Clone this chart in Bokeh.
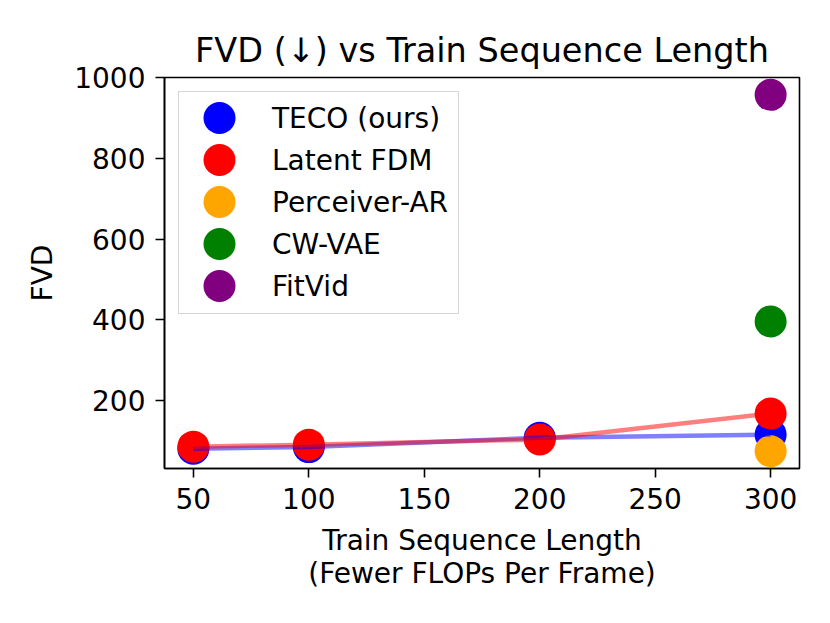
from bokeh.plotting import figure
from bokeh.models import Range1d, FixedTicker, Legend, LegendItem
from bokeh.embed import file_html
from bokeh.resources import INLINE

train_len = [50, 100, 200, 300]
teco_fvd = [81, 85, 108, 116]
fdm_fvd = [86, 91, 104, 168]
perceiver_len = [300]
perceiver_fvd = [75]
cwvae_len = [300]
cwvae_fvd = [396]
fitvid_len = [300]
fitvid_fvd = [957]

series_labels = ["TECO (ours)", "Latent FDM", "Perceiver-AR", "CW-VAE", "FitVid"]
series_colors = ["blue", "red", "orange", "green", "purple"]

x_ticks = [50, 100, 150, 200, 250, 300]
y_ticks = [200, 400, 600, 800, 1000]

FONT = "DejaVu Sans"
FW, FH = 635, 391

p = figure(frame_width=FW, frame_height=FH, output_backend="svg", toolbar_location=None,
           x_range=Range1d(37.5, 312.5), y_range=Range1d(32, 1000),
           min_border_left=164, min_border_top=77, min_border_right=22, min_border_bottom=136,
           title="FVD (\u2193) vs Train Sequence Length")
p.title.align = "center"
p.title.text_font = FONT
p.title.text_font_size = "33.5px"
p.title.text_font_style = "normal"
p.title.text_color = "black"
p.title.standoff = 16

p.xgrid.visible = False
p.ygrid.visible = False
p.outline_line_color = "black"
p.outline_line_width = 1.6
p.background_fill_color = "white"
p.border_fill_color = "white"

for ax in (p.xaxis[0], p.yaxis[0]):
    ax.axis_line_width = 1.6
    ax.major_tick_line_width = 1.6
    ax.major_tick_out = 9
    ax.major_tick_in = 0
    ax.major_label_standoff = 10
    ax.minor_tick_line_color = None
    ax.major_label_text_font = FONT
    ax.major_label_text_font_size = "28px"
    ax.major_label_text_color = "black"
    ax.axis_label_text_font = FONT
    ax.axis_label_text_font_size = "28px"
    ax.axis_label_text_font_style = "normal"
    ax.axis_label_text_color = "black"
    ax.axis_label_text_line_height = 1.0
    ax.axis_label_standoff = 12

p.xaxis.ticker = FixedTicker(ticks=x_ticks)
p.yaxis.ticker = FixedTicker(ticks=y_ticks)
p.xaxis.axis_label = "Train Sequence Length\n(Fewer FLOPs Per Frame)"
p.yaxis.axis_label = "FVD"

S = 32
p.scatter(train_len, teco_fvd, size=S, color=series_colors[0], line_color=None)
p.scatter(train_len, fdm_fvd, size=S, color=series_colors[1], line_color=None)
p.scatter(perceiver_len, perceiver_fvd, size=S, color=series_colors[2], line_color=None)
p.scatter(cwvae_len, cwvae_fvd, size=S, color=series_colors[3], line_color=None)
p.scatter(fitvid_len, fitvid_fvd, size=S, color=series_colors[4], line_color=None)

p.line(train_len, teco_fvd, line_color="blue", line_alpha=0.5, line_width=4.5)
p.line(train_len, fdm_fvd, line_color="red", line_alpha=0.5, line_width=4.5)

# legend: labels through a Legend, large keys drawn on an overlay in frame pixels
MARGIN, PAD, GW, GH, SPACING, STANDOFF = 14, 10, 62, 33, 9, 21
dummies = [p.scatter([], [], size=S, fill_color=None, line_color=None) for _ in series_labels]
legend = Legend(items=[LegendItem(label=l, renderers=[r]) for l, r in zip(series_labels, dummies)],
                location="top_left")
legend.label_text_font = FONT
legend.label_text_font_size = "28px"
legend.label_text_color = "black"
legend.border_line_color = "#cccccc"
legend.border_line_alpha = 0.8
legend.border_line_width = 1.6
legend.background_fill_alpha = 0.0
legend.margin = MARGIN
legend.padding = PAD
legend.spacing = SPACING
legend.glyph_height = GH
legend.glyph_width = GW
legend.label_standoff = STANDOFF
p.add_layout(legend)

p.extra_x_ranges = {"px": Range1d(0, FW)}
p.extra_y_ranges = {"px": Range1d(FH, 0)}
key_x = [MARGIN + PAD + GW / 2] * len(series_labels)
key_y = [MARGIN + PAD + GH / 2 + i * (GH + SPACING) for i in range(len(series_labels))]
p.scatter(key_x, key_y, size=S, color=series_colors, line_color=None,
          x_range_name="px", y_range_name="px", level="overlay")

open("out.html", "w").write(file_html(p, INLINE))
